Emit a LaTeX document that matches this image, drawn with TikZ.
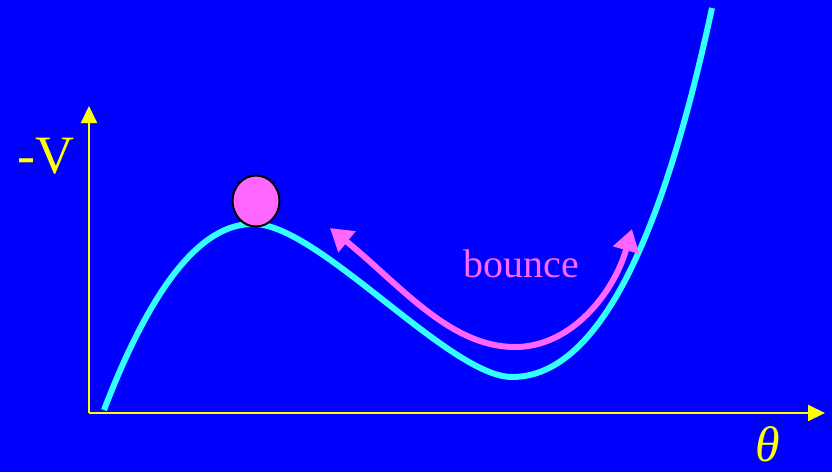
\documentclass[tikz,border=0pt]{standalone}
\usepackage{fontspec}
\setmainfont{Liberation Serif}
\usetikzlibrary{arrows.meta,shapes.geometric}
\definecolor{bg}{HTML}{0000FF}
\definecolor{axisc}{HTML}{FFFF00}
\definecolor{curvec}{HTML}{33FFFF}
\definecolor{magc}{HTML}{FF66FF}
\tikzset{
  axisline/.style={draw=axisc, line width=2pt, -{Triangle[length=17pt,width=16pt]}},
  potential/.style={draw=curvec, line width=6pt},
  bouncearrow/.style={draw=magc, line width=6pt, {Triangle[length=22pt,width=26pt]}-{Triangle[length=22pt,width=26pt]}},
  lbl/.style={inner sep=0pt}
}
\begin{document}
\begin{tikzpicture}[x=1pt,y=-1pt]
\fill[bg] (0,0) rectangle (832,472);
\useasboundingbox (0,0) rectangle (832,472);
\coordinate (O) at (89,413);
\coordinate (Ytop) at (89,106);
\coordinate (Xend) at (825,413);
\coordinate (c0) at (104,410);
\coordinate (c1) at (255,224);
\coordinate (c2) at (512,377);
\coordinate (c3) at (712,8);
\coordinate (m0) at (330,228);
\coordinate (m1) at (515,347);
\coordinate (m2) at (632,229);
\draw[axisline] (O) -- (Ytop);
\draw[axisline] (O) -- (Xend);
\draw[potential] (c0) .. controls (150,290) and (200,222) .. (c1)
  .. controls (320,226) and (450,377) .. (c2)
  .. controls (598,377) and (662,240) .. (c3);
\draw[bouncearrow] (m0) .. controls (400,285) and (450,347) .. (m1)
  .. controls (572,347) and (614,292) .. (m2);
\node[ellipse, draw=black, line width=2pt, fill=magc, minimum width=47pt, minimum height=51pt, inner sep=0pt] (ball) at (256,201) {};
\node[lbl, text=magc, font=\fontsize{40}{48}\selectfont] (bounce) at (521,264) {bounce};
\node[lbl, text=axisc, font=\fontsize{54}{60}\selectfont] (V) at (46,156) {-V};
\node[lbl, text=axisc, font=\fontsize{50}{60}\selectfont\itshape] (theta) at (768,444) {θ};
\end{tikzpicture}
\end{document}
